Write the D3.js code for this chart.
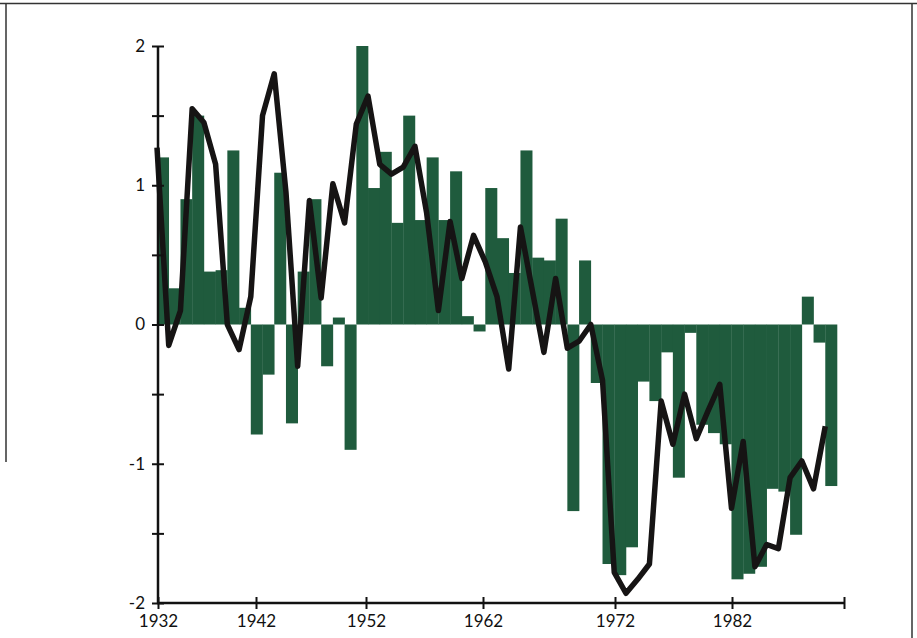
<!DOCTYPE html>
<html>
<head>
<meta charset="utf-8">
<script src="https://cdn.jsdelivr.net/npm/d3@7"></script>
<style>
  html, body { margin: 0; padding: 0; background: #fff; }
  svg { display: block; }
  .tick-label { font-family: Lato, "Open Sans", sans-serif; font-size: 17px; fill: #111; }
</style>
</head>
<body>
<div id="chart"></div>
<script>
// ── Data ─────────────────────────────────────────────────────────────────────

const firstYear = 1932;

// annual bars (one per year, 1932–1989)
const barValues = [
   1.20,  0.26,  0.90,  1.50,  0.38,  0.39,  1.25,  0.12, -0.79, -0.36,
   1.09, -0.71,  0.38,  0.90, -0.30,  0.05, -0.90,  2.00,  0.98,  1.24,
   0.73,  1.50,  0.75,  1.20,  0.75,  1.10,  0.06, -0.05,  0.98,  0.62,
   0.37,  1.25,  0.48,  0.46,  0.76, -1.34,  0.46, -0.42, -1.72, -1.80,
  -1.60, -0.41, -0.55, -0.20, -1.10, -0.06, -0.72, -0.78, -0.86, -1.83,
  -1.79, -1.74, -1.18, -1.20, -1.51,  0.20, -0.13, -1.16
];

// black curve, one point per year
const lineValues = [
   1.27, -0.15,  0.10,  1.55,  1.45,  1.15,  0.00, -0.18,  0.20,  1.50,
   1.80,  0.95, -0.30,  0.89,  0.19,  1.01,  0.73,  1.44,  1.64,  1.15,
   1.08,  1.13,  1.28,  0.80,  0.10,  0.74,  0.33,  0.64,  0.45,  0.20,
  -0.32,  0.70,  0.25, -0.20,  0.33, -0.17, -0.12,  0.00, -0.40, -1.78,
  -1.93, -1.83, -1.72, -0.55, -0.86, -0.50, -0.82, -0.62, -0.43, -1.32,
  -0.84, -1.74, -1.58, -1.61, -1.10, -0.98, -1.18, -0.73
];

const years = barValues.map((_, i) => firstYear + i);

const yTicks       = [-2, -1.5, -1, -0.5, 0, 0.5, 1, 1.5, 2];
const yTickLabels  = { '-2': '-2', '-1': '-1', '0': '0', '1': '1', '2': '2' };
const xTickYears   = [1932, 1942, 1952, 1962, 1972, 1982, 1992];
const xTickLabels  = ['1932', '1942', '1952', '1962', '1972', '1982', ''];

// ── Layout ───────────────────────────────────────────────────────────────────

const width  = 917;
const height = 638;

const BAR_COLOR  = '#1f5b3d';
const LINE_COLOR = '#161414';

const svg = d3.select('#chart')
  .append('svg')
  .attr('width', width)
  .attr('height', height);

// scanned frame
svg.append('path')
  .attr('d', 'M0,3.5H917 M6,3.5V462 M912,3.5V638')
  .attr('fill', 'none')
  .attr('stroke', '#333')
  .attr('stroke-width', 1.5);

// data scale: bar for year y spans [x(y), x(y+1)]
const x = d3.scaleLinear()
  .domain([firstYear, firstYear + years.length])
  .range([157, 837]);

// the printed axis ticks in the source were placed unevenly by hand
const xAxisScale = d3.scaleLinear()
  .domain(xTickYears)
  .range([158, 256, 366, 483, 615, 732, 844]);

const y = d3.scaleLinear()
  .domain([-2, 2])
  .range([603, 46]);

// ── Bars ─────────────────────────────────────────────────────────────────────

svg.append('g')
  .selectAll('rect')
  .data(years.map((yr, i) => ({ year: yr, value: barValues[i] })))
  .join('rect')
  .attr('x', d => x(d.year))
  .attr('width', d => x(d.year + 1) - x(d.year) + 0.3)
  .attr('y', d => y(Math.max(0, d.value)))
  .attr('height', d => Math.abs(y(d.value) - y(0)))
  .attr('fill', BAR_COLOR);

// ── Line ─────────────────────────────────────────────────────────────────────

const line = d3.line()
  .x(d => x(d.year))
  .y(d => y(d.value));

svg.append('path')
  .datum(years.map((yr, i) => ({ year: yr, value: lineValues[i] })))
  .attr('d', line)
  .attr('fill', 'none')
  .attr('stroke', LINE_COLOR)
  .attr('stroke-width', 5.5)
  .attr('stroke-linejoin', 'round')
  .attr('stroke-linecap', 'butt');

// ── Axes ─────────────────────────────────────────────────────────────────────

const yAxis = svg.append('g')
  .attr('transform', 'translate(158,0)')
  .call(
    d3.axisLeft(y)
      .tickValues(yTicks)
      .tickSize(6)
      .tickPadding(7)
      .tickFormat(d => yTickLabels[String(d)] || '')
  );

const xAxis = svg.append('g')
  .attr('transform', 'translate(0,603)')
  .call(
    d3.axisBottom(xAxisScale)
      .tickValues(xTickYears)
      .tickSize(6)
      .tickPadding(6)
      .tickFormat((d, i) => xTickLabels[i])
  );

for (const ax of [yAxis, xAxis]) {
  ax.select('.domain')
    .attr('stroke', '#111')
    .attr('stroke-width', 2.5);
  ax.selectAll('.tick line')
    .attr('stroke', '#111')
    .attr('stroke-width', 2);
  ax.selectAll('.tick text')
    .attr('class', 'tick-label')
    .attr('font-family', null)
    .attr('font-size', null);
}

// ticks cross the axis line on both sides
yAxis.selectAll('.tick line').attr('x1', 6).attr('x2', -6);
xAxis.selectAll('.tick line').attr('y1', -6).attr('y2', 6);
yAxis.select('.domain').attr('d', `M0,${y(2)}V${y(-2)}`);
xAxis.select('.domain').attr('d', `M157,0H${xAxisScale(1992)}`);
</script>
</body>
</html>
